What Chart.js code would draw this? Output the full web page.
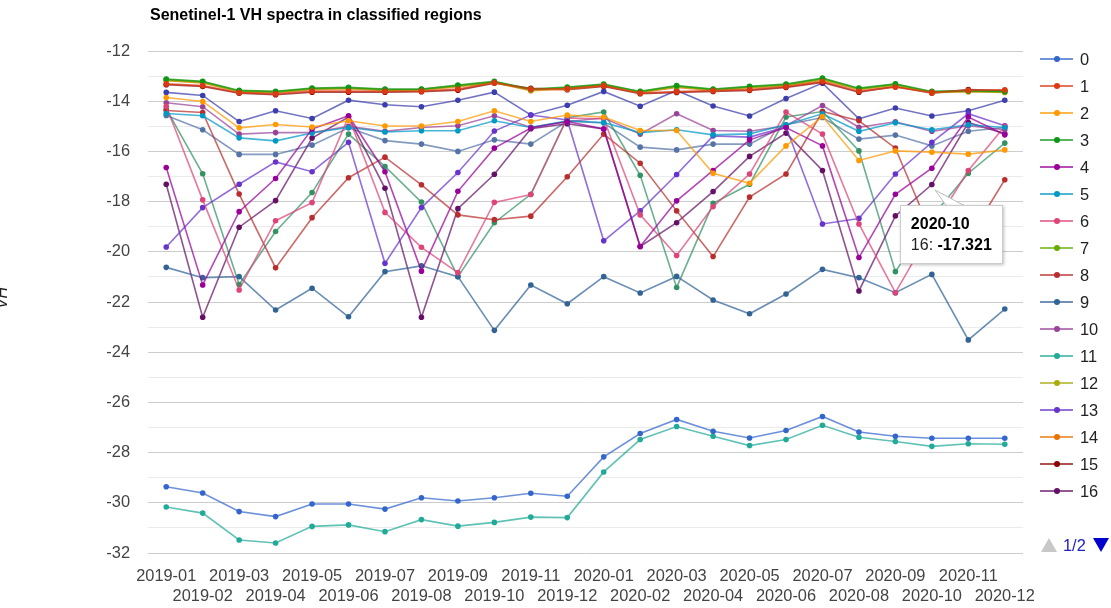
<!DOCTYPE html>
<html>
<head>
<meta charset="utf-8">
<script src="https://cdn.jsdelivr.net/npm/chart.js@4.4.1/dist/chart.umd.min.js"></script>
<style>
  body { margin: 0; background: #fff; font-family: "Liberation Sans", Arial, sans-serif; }
  #wrap { position: relative; width: 1111px; height: 608px; overflow: hidden; }
  #legend { position: absolute; left: 1038px; top: 0; width: 73px; height: 608px; }
  .item { position: absolute; left: 0; width: 73px; height: 20px; }
  .item .ln { position: absolute; left: 2px; top: 9px; width: 33px; height: 2px; opacity: 0.7; }
  .item .dt { position: absolute; left: 16px; top: 7px; width: 6px; height: 6px; border-radius: 50%; }
  .item .tx { position: absolute; left: 42px; top: 0; font-size: 16.4px; line-height: 20px; color: #222; }
  #pager { position: absolute; left: 1039px; top: 532px; height: 26px; width: 72px; }
  #pager .up { position: absolute; left: 2px; top: 6px; width: 0; height: 0;
               border-left: 8px solid transparent; border-right: 8px solid transparent; border-bottom: 14px solid #c8c8c8; }
  #pager .dn { position: absolute; left: 54px; top: 6px; width: 0; height: 0;
               border-left: 8px solid transparent; border-right: 8px solid transparent; border-top: 14px solid #0000cc; }
  #pager .pg { position: absolute; left: 24px; top: 0; line-height: 26px; font-size: 16.4px; color: #2020c0; }
  #tip { position: absolute; display: none; background: #fff; border: 1px solid #ccc;
         box-shadow: 1px 1px 3px rgba(0,0,0,0.25); padding: 7px 10px 8px 10px;
         font-size: 16px; line-height: 21px; color: #000; white-space: nowrap; }
  #tail { position: absolute; display: none; overflow: visible; }
</style>
</head>
<body>
<div id="wrap">
  <canvas id="chart" width="1111" height="608"></canvas>
  <div id="legend"></div>
  <div id="pager"><div class="up"></div><span class="pg">1/2</span><div class="dn"></div></div>
  <svg id="tail" width="60" height="30"></svg>
  <div id="tip"></div>
</div>
<script>
const months = ['2019-01','2019-02','2019-03','2019-04','2019-05','2019-06','2019-07','2019-08',
  '2019-09','2019-10','2019-11','2019-12','2020-01','2020-02','2020-03','2020-04',
  '2020-05','2020-06','2020-07','2020-08','2020-09','2020-10','2020-11','2020-12'];

const vh0 = [-29.36, -29.61, -30.35, -30.55, -30.05, -30.05, -30.25, -29.8, -29.93, -29.8, -29.62, -29.74, -28.17, -27.24, -26.68, -27.15, -27.42, -27.12, -26.56, -27.18, -27.35, -27.43, -27.43, -27.43];
const vh1 = [-13.31, -13.38, -13.66, -13.71, -13.6, -13.6, -13.61, -13.6, -13.52, -13.26, -13.52, -13.5, -13.38, -13.68, -13.62, -13.58, -13.54, -13.42, -13.22, -13.6, -13.44, -13.65, -13.57, -13.55];
const vh2 = [-13.85, -14.01, -15.06, -14.93, -15.03, -14.78, -14.99, -14.99, -14.81, -14.38, -14.81, -14.55, -14.63, -15.17, -15.17, -16.87, -17.27, -15.78, -14.61, -16.36, -15.98, -16.03, -16.11, -15.94];
const vh3 = [-13.12, -13.21, -13.57, -13.61, -13.48, -13.45, -13.52, -13.52, -13.36, -13.21, -13.52, -13.44, -13.32, -13.61, -13.38, -13.52, -13.41, -13.32, -13.08, -13.48, -13.31, -13.61, -13.58, -13.61];
const vh4 = [-16.64, -21.32, -18.4, -17.08, -15.11, -14.58, -16.81, -20.77, -17.59, -15.87, -15.07, -14.81, -15.11, -19.79, -17.97, -16.76, -15.54, -15.05, -15.78, -20.23, -17.71, -16.67, -14.63, -15.34];
const vh5 = [-14.49, -14.58, -15.46, -15.58, -15.27, -15.05, -15.23, -15.18, -15.18, -14.78, -15.05, -14.78, -14.85, -15.25, -15.14, -15.34, -15.3, -14.94, -14.5, -15.2, -14.86, -15.14, -14.94, -15.05];
const vh6 = [-14.2, -17.93, -21.52, -18.76, -18.04, -14.62, -18.43, -19.82, -20.83, -18.03, -17.72, -14.67, -14.7, -18.53, -20.15, -18.2, -16.9, -14.43, -15.31, -18.89, -21.63, -19.1, -16.76, -15.0];
const vh7 = [-13.14, -13.23, -13.59, -13.63, -13.5, -13.47, -13.54, -13.53, -13.38, -13.23, -13.54, -13.46, -13.34, -13.62, -13.4, -13.54, -13.43, -13.34, -13.1, -13.5, -13.33, -13.63, -13.59, -13.62];
const vh8 = [-14.37, -14.45, -17.7, -20.64, -18.64, -17.05, -16.23, -17.33, -18.53, -18.72, -18.58, -17.01, -15.31, -16.47, -18.37, -20.19, -17.82, -16.9, -14.41, -14.78, -15.87, -19.3, -19.5, -17.13];
const vh9 = [-20.62, -21.03, -20.99, -22.32, -21.45, -22.59, -20.79, -20.56, -20.99, -23.13, -21.32, -22.07, -20.99, -21.64, -20.98, -21.92, -22.47, -21.68, -20.7, -21.03, -21.63, -20.9, -23.51, -22.28];
const vh10 = [-14.06, -14.22, -15.31, -15.25, -15.25, -15.0, -15.2, -15.05, -14.98, -14.58, -15.04, -14.81, -14.67, -15.31, -14.5, -15.17, -15.2, -14.98, -14.17, -15.04, -14.82, -15.2, -14.98, -15.14];
const vh11 = [-30.17, -30.41, -31.48, -31.6, -30.94, -30.88, -31.15, -30.67, -30.93, -30.78, -30.57, -30.59, -28.77, -27.48, -26.96, -27.35, -27.72, -27.48, -26.91, -27.39, -27.56, -27.75, -27.65, -27.67];
const vh12 = [-13.16, -13.25, -13.6, -13.64, -13.51, -13.49, -13.55, -13.55, -13.4, -13.25, -13.55, -13.48, -13.35, -13.64, -13.42, -13.55, -13.45, -13.36, -13.13, -13.52, -13.35, -13.64, -13.61, -13.64];
const vh13 = [-19.81, -18.24, -17.31, -16.42, -16.81, -15.64, -20.46, -18.24, -16.84, -15.19, -14.55, -14.75, -19.56, -18.37, -16.92, -15.38, -15.43, -15.03, -18.89, -18.67, -16.9, -15.64, -14.5, -14.98];
const vh14 = [-13.18, -13.27, -13.63, -13.66, -13.53, -13.5, -13.57, -13.56, -13.42, -13.26, -13.58, -13.52, -13.37, -13.66, -13.45, -13.57, -13.47, -13.38, -13.16, -13.53, -13.37, -13.66, -13.62, -13.65];
const vh15 = [-13.34, -13.41, -13.68, -13.74, -13.64, -13.64, -13.64, -13.62, -13.56, -13.28, -13.49, -13.54, -13.41, -13.7, -13.65, -13.61, -13.57, -13.45, -13.25, -13.64, -13.41, -13.68, -13.54, -13.58];
const vh16 = [-17.31, -22.61, -19.02, -17.96, -15.47, -14.63, -17.47, -22.61, -18.28, -16.91, -15.1, -14.9, -15.11, -19.79, -18.84, -17.6, -16.2, -15.27, -16.76, -21.56, -18.57, -17.321, -14.85, -15.3];
const vh17 = [-14.31, -16.89, -21.3, -19.19, -17.64, -15.31, -16.6, -18.02, -20.99, -18.84, -17.71, -14.66, -14.43, -16.95, -21.42, -18.07, -17.31, -14.63, -14.41, -15.98, -20.79, -18.6, -16.87, -15.67];
const vh18 = [-14.57, -15.14, -16.12, -16.12, -15.75, -15.06, -15.57, -15.71, -16.0, -15.54, -15.71, -14.8, -14.87, -15.83, -15.94, -15.71, -15.71, -14.94, -14.65, -15.51, -15.35, -15.78, -15.2, -15.05];
const vh19 = [-13.65, -13.77, -14.81, -14.38, -14.69, -13.96, -14.14, -14.22, -13.96, -13.64, -14.55, -14.16, -13.61, -14.2, -13.57, -14.19, -14.59, -13.89, -13.28, -14.7, -14.27, -14.59, -14.38, -13.96];

const seriesNames = ['0','1','2','3','4','5','6','7','8','9','10','11','12','13','14','15','16','17','18','19'];
const seriesValues = [vh0, vh1, vh2, vh3, vh4, vh5, vh6, vh7, vh8, vh9, vh10, vh11, vh12, vh13, vh14, vh15, vh16, vh17, vh18, vh19];
const colors = ['#3366cc','#dc3912','#ff9900','#109618','#990099','#0099c6','#dd4477','#66aa00','#b82e2e','#316395',
  '#994499','#22aa99','#aaaa11','#6633cc','#e67300','#8b0707','#651067','#329262','#5574a6','#3b3eac'];
const legendCount = 17; // page 1 of the legend

Chart.defaults.font.family = "'Liberation Sans', Arial, sans-serif";
Chart.defaults.font.size = 16.4;
Chart.defaults.color = '#444';

const datasets = seriesValues.map((vals, i) => ({
  label: seriesNames[i],
  data: vals,
  borderColor: colors[i] + 'b8',
  backgroundColor: colors[i],
  pointBackgroundColor: colors[i],
  pointBorderWidth: 0,
  pointRadius: 2.8,
  borderWidth: 1.6,
  tension: 0
}));

// title and the (clipped) vertical axis title
const extras = {
  id: 'extras',
  afterDraw(chart) {
    const ctx = chart.ctx;
    ctx.save();
    ctx.fillStyle = '#000';
    ctx.font = "bold 16px 'Liberation Sans', Arial, sans-serif";
    ctx.textBaseline = 'middle';
    ctx.textAlign = 'left';
    ctx.fillText('Senetinel-1 VH spectra in classified regions', chart.chartArea.left + 2, 16);
    ctx.translate(7, 298);
    ctx.rotate(-Math.PI / 2);
    ctx.font = "italic 16px 'Liberation Sans', Arial, sans-serif";
    ctx.fillStyle = '#222';
    ctx.textAlign = 'center';
    ctx.textBaseline = 'alphabetic';
    ctx.fillText('VH', 0, 0);
    ctx.restore();
  }
};

function externalTip(context) {
  const tip = context.tooltip;
  const el = document.getElementById('tip');
  const tail = document.getElementById('tail');
  if (tip.opacity === 0 || !tip.dataPoints || !tip.dataPoints.length) {
    el.style.display = 'none';
    tail.style.display = 'none';
    return;
  }
  const dp = tip.dataPoints[0];
  el.innerHTML = '<b>' + dp.label + '</b><br><span style="color:#222">' + dp.dataset.label +
    ': </span><b>' + dp.raw + '</b>';
  const x = tip.caretX, y = tip.caretY;
  el.style.left = (x - 32) + 'px';
  el.style.top = (y + 20) + 'px';
  el.style.display = 'block';
  tail.style.left = x + 'px';
  tail.style.top = y + 'px';
  tail.innerHTML = '<polygon points="3,5 15,22 34,22" fill="#fff" stroke="none"/>' +
    '<polyline points="15,21.5 3,5 34,21.5" fill="none" stroke="#bbb" stroke-width="1"/>';
  tail.style.display = 'block';
}

const chart = new Chart(document.getElementById('chart'), {
  type: 'line',
  data: { labels: months, datasets: datasets },
  plugins: [extras],
  options: {
    responsive: false,
    animation: false,
    events: [],
    layout: { padding: { left: 0, right: 88, top: 51, bottom: 0 } },
    plugins: {
      legend: { display: false },
      title: { display: false },
      tooltip: { enabled: false, external: externalTip, mode: 'nearest', intersect: true }
    },
    scales: {
      x: {
        offset: true,
        grid: { display: false },
        border: { display: false },
        afterFit(scale) { scale.height = 55; },
        ticks: {
          autoSkip: false,
          maxRotation: 0,
          minRotation: 0,
          padding: 6,
          color: '#444',
          callback(value, index) {
            const lab = this.getLabelForValue(value);
            return index % 2 === 0 ? [lab, ''] : ['', lab];
          }
        }
      },
      y: {
        min: -32,
        max: -12,
        border: { display: false },
        afterFit(scale) { scale.width = 148; },
        grid: {
          drawTicks: false,
          color: (c) => (c.tick && c.tick.value % 2 === 0) ? '#cccccc' : '#ebebeb'
        },
        ticks: {
          stepSize: 1,
          padding: 18,
          color: '#444',
          callback: (v) => (v % 2 === 0 ? String(v) : '')
        }
      }
    }
  }
});

// legend, page 1
const legend = document.getElementById('legend');
for (let i = 0; i < legendCount; i++) {
  const item = document.createElement('div');
  item.className = 'item';
  item.style.top = (49 + 27 * i) + 'px';
  item.innerHTML = '<div class="ln" style="background:' + colors[i] + '"></div>' +
    '<div class="dt" style="background:' + colors[i] + '"></div>' +
    '<div class="tx">' + seriesNames[i] + '</div>';
  legend.appendChild(item);
}

// the hovered point shown in the reference: series 16, 2020-10
const hoverSeries = 16, hoverIndex = months.indexOf('2020-10');
const pt = chart.getDatasetMeta(hoverSeries).data[hoverIndex];
chart.tooltip.setActiveElements([{ datasetIndex: hoverSeries, index: hoverIndex }], { x: pt.x, y: pt.y });
chart.update();
</script>
</body>
</html>
